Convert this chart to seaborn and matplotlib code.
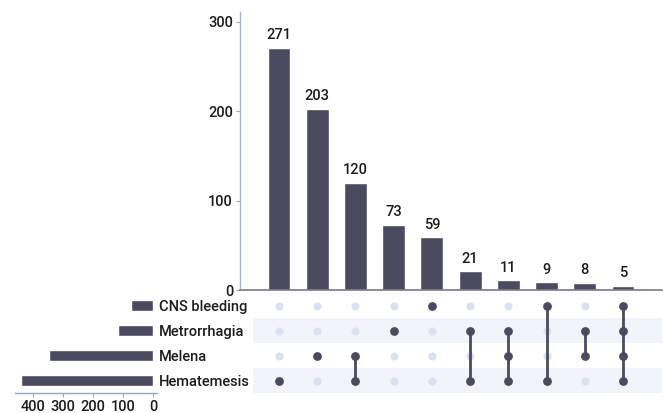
import matplotlib
matplotlib.use("Agg")
import matplotlib.pyplot as plt
import seaborn as sns
import pandas as pd
import numpy as np

# Sets, listed bottom to top in the matrix
sets = ["Hematemesis", "Melena", "Metrorrhagia", "CNS bleeding"]
set_sizes = [437, 347, 118, 73]

# Intersections, in order of decreasing size
intersection_counts = [271, 203, 120, 73, 59, 21, 11, 9, 8, 5]
intersection_members = [
    ["Hematemesis"],
    ["Melena"],
    ["Hematemesis", "Melena"],
    ["Metrorrhagia"],
    ["CNS bleeding"],
    ["Hematemesis", "Metrorrhagia"],
    ["Hematemesis", "Melena", "Metrorrhagia"],
    ["Hematemesis", "CNS bleeding"],
    ["Melena", "Metrorrhagia"],
    ["Hematemesis", "Melena", "Metrorrhagia", "CNS bleeding"],
]

sns.set_theme(style="white")
plt.rcParams["font.family"] = ["Roboto", "Liberation Sans", "DejaVu Sans"]
plt.rcParams["font.weight"] = "medium"
FS = 10.5

BAR = "#4b4a5e"
DOT_OFF = "#dde0ee"
STRIPE = "#f1f4fa"
SPINE = "#7a7a88"
TEXT = "#1c1c1c"

W, H = 670, 413
fig = plt.figure(figsize=(W / 100, H / 100), dpi=100)
fig.patch.set_facecolor("white")


def px_axes(x0, y0, x1, y1):
    return fig.add_axes([x0 / W, 1 - y1 / H, (x1 - x0) / W, (y1 - y0) / H])


n = len(intersection_counts)
xlim = (-1.02, n - 1 + 1.02)

# ---- intersection size bars ----
ax_bar = px_axes(240, 12, 662, 290)
df_int = pd.DataFrame({"idx": np.arange(n), "count": intersection_counts})
sns.barplot(data=df_int, x="idx", y="count", color=BAR, width=0.6,
            saturation=1, ax=ax_bar, native_scale=True)
ax_bar.set_xlim(*xlim)
ax_bar.set_ylim(0, 311)
ax_bar.set_yticks([0, 100, 200, 300])
ax_bar.set_xticks([])
ax_bar.set_xlabel("")
ax_bar.set_ylabel("")
for s in ["top", "right"]:
    ax_bar.spines[s].set_visible(False)
ax_bar.spines["left"].set_color("#aab4cc")
ax_bar.spines["left"].set_linewidth(1.0)
ax_bar.spines["bottom"].set_color(SPINE)
ax_bar.spines["bottom"].set_linewidth(1.2)
ax_bar.tick_params(axis="y", left=True, length=3, width=0.8, color="#9aa4bc",
                   pad=2, labelsize=FS, labelcolor=TEXT)
for p, v in zip(ax_bar.patches, intersection_counts):
    ax_bar.text(p.get_x() + p.get_width() / 2, p.get_height() + 6, str(v),
                ha="center", va="bottom", fontsize=FS, color=TEXT)

# ---- membership matrix ----
ax_mat = px_axes(240, 293, 662, 393)
ax_mat.set_xlim(*xlim)
ax_mat.set_ylim(-0.5, len(sets) - 0.5)
for i in range(len(sets)):
    if i % 2 == 0:
        ax_mat.fill_between([-0.68, xlim[1]], i - 0.5, i + 0.5,
                            color=STRIPE, lw=0, zorder=0)
xs_off, ys_off, xs_on, ys_on = [], [], [], []
for j, members in enumerate(intersection_members):
    rows = [sets.index(m) for m in members]
    for i in range(len(sets)):
        if i in rows:
            xs_on.append(j); ys_on.append(i)
        else:
            xs_off.append(j); ys_off.append(i)
    if len(rows) > 1:
        ax_mat.plot([j, j], [min(rows), max(rows)], color=BAR, lw=2.0,
                    solid_capstyle="butt", zorder=2)
sns.scatterplot(x=xs_off, y=ys_off, color=DOT_OFF, s=34, linewidth=0,
                ax=ax_mat, zorder=1)
sns.scatterplot(x=xs_on, y=ys_on, color=BAR, s=40, linewidth=0,
                ax=ax_mat, zorder=3)
ax_mat.set_axis_off()

# ---- set size bars ----
ax_set = px_axes(15, 293, 157, 393)
df_set = pd.DataFrame({"set": sets, "size": set_sizes, "pos": np.arange(len(sets))})
sns.barplot(data=df_set, x="size", y="pos", orient="h", color=BAR,
            width=0.47, saturation=1, ax=ax_set, native_scale=True)
ax_set.set_ylim(-0.5, len(sets) - 0.5)
ax_set.set_xlim(458, -12)
ax_set.set_xticks([400, 300, 200, 100, 0])
ax_set.set_xlabel("")
ax_set.set_ylabel("")
ax_set.yaxis.tick_right()
ax_set.set_yticks(np.arange(len(sets)))
ax_set.set_yticklabels(sets)
ax_set.tick_params(axis="y", right=False, left=False, length=0, pad=1.5,
                   labelsize=FS, labelcolor=TEXT)
ax_set.tick_params(axis="x", bottom=True, length=3, width=0.8, color="#9aa4bc",
                   pad=2, labelsize=FS, labelcolor=TEXT)
for s in ["top", "right", "left"]:
    ax_set.spines[s].set_visible(False)
ax_set.spines["bottom"].set_color("#9aa4bc")
ax_set.spines["bottom"].set_linewidth(1.0)

fig.savefig("out.png", dpi=100, facecolor="white")
